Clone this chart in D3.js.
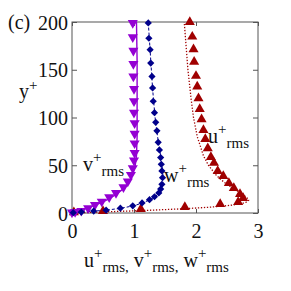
<!DOCTYPE html>
<html>
<head>
<meta charset="utf-8">
<script src="https://cdn.jsdelivr.net/npm/d3@7"></script>
<style>
  body { margin: 0; background: #fff; }
</style>
</head>
<body>
<div id="chart"></div>
<script>
// ticks
var xTicks = [0, 1, 2, 3];
var yTicks = [0, 50, 100, 150, 200];

// DNS points (markers)
var uY = [200, 184.6, 171.4, 158.4, 143.5, 132.3, 120.1, 108.9, 98.1, 86.9, 77.5, 67.8, 58.6, 52.4, 44, 38.7, 31.4, 26.2, 19.9, 15.7, 11.5, 9.4, 6.3, 4.2, 2.1, 0.7];
var uX = [1.90, 1.94, 1.96, 1.97, 2.00, 2.02, 2.04, 2.06, 2.09, 2.12, 2.15, 2.19, 2.24, 2.29, 2.35, 2.44, 2.53, 2.61, 2.71, 2.76, 2.68, 2.39, 1.82, 1.11, 0.50, 0.03];

var vY = [199, 184, 170, 156, 143, 130, 117, 105, 94, 83, 73, 63, 55, 47, 40, 33, 27, 21, 16.5, 12, 8.5, 5, 2.3, 1.2, 0.5];
var vX = [0.98, 0.98, 0.99, 0.99, 0.99, 1.0, 1.0, 1.0, 1.01, 1.01, 1.01, 1.01, 1.0, 0.98, 0.95, 0.9, 0.83, 0.71, 0.6, 0.48, 0.37, 0.26, 0.15, 0.05, 0.0];

var wY = [199, 183, 171, 157, 143, 131, 117, 105, 95, 86, 74, 66, 58, 51, 44, 37, 30, 25, 21, 17, 14, 10.5, 7.5, 5, 3, 2, 1, 0.3];
var wX = [1.23, 1.24, 1.26, 1.27, 1.29, 1.30, 1.31, 1.33, 1.35, 1.37, 1.39, 1.41, 1.43, 1.44, 1.45, 1.46, 1.45, 1.43, 1.40, 1.33, 1.25, 1.13, 0.98, 0.78, 0.55, 0.35, 0.15, 0.02];

// model curves (lines)
var uLineY = [0, 1, 2, 3, 4, 5, 6, 7, 8, 9, 10, 11, 12, 13.5, 15, 17, 20, 25, 30, 35, 40, 50, 60, 70, 80, 100, 120, 150, 175, 200];
var uLineX = [0, 0.45, 0.9, 1.3, 1.65, 1.95, 2.2, 2.4, 2.55, 2.66, 2.74, 2.8, 2.83, 2.85, 2.84, 2.8, 2.74, 2.62, 2.5, 2.4, 2.32, 2.2, 2.12, 2.07, 2.02, 1.96, 1.92, 1.87, 1.84, 1.81];

var vLineY = [0, 1, 2, 3, 5, 7, 10, 13, 16, 20, 25, 30, 35, 40, 50, 60, 80, 100, 130, 160, 200];
var vLineX = [0, 0.04, 0.09, 0.14, 0.23, 0.32, 0.44, 0.54, 0.63, 0.72, 0.82, 0.89, 0.94, 0.98, 1.02, 1.04, 1.05, 1.05, 1.05, 1.05, 1.04];

var wLineY = [0, 1, 2, 3, 5, 7.5, 10.5, 14, 17, 21, 25, 30, 37, 44, 51, 60, 80, 100, 130, 160, 200];
var wLineX = [0, 0.16, 0.36, 0.56, 0.79, 0.99, 1.14, 1.26, 1.34, 1.41, 1.44, 1.46, 1.47, 1.46, 1.45, 1.43, 1.38, 1.34, 1.30, 1.27, 1.23];

var purple = "#9400d3", blue = "#00008b", red = "#a00000";
var serif = "Liberation Serif";
var fs = 20, fsSmall = 15;

var svg = d3.select("#chart").append("svg")
  .attr("width", 291).attr("height", 291);

var x = d3.scaleLinear().domain([0, 3]).range([72, 258]);
var y = d3.scaleLinear().domain([0, 200]).range([213, 22]);

function zip(xs, ys) {
  return xs.map(function (d, i) { return [d, ys[i]]; });
}

var line = d3.line()
  .x(function (d) { return x(d[0]); })
  .y(function (d) { return y(d[1]); });

// frame
svg.append("rect")
  .attr("x", 72).attr("y", 22)
  .attr("width", 186).attr("height", 191)
  .attr("fill", "none").attr("stroke", "#555").attr("stroke-width", 1);

// axes, gnuplot-ish inward ticks
var ax = svg.append("g").attr("transform", "translate(0,213)")
  .call(d3.axisBottom(x).tickValues(xTicks).tickFormat(d3.format("d"))
    .tickSizeInner(-4).tickSizeOuter(0).tickPadding(11));
var ay = svg.append("g").attr("transform", "translate(72,0)")
  .call(d3.axisLeft(y).tickValues(yTicks).tickFormat(d3.format("d"))
    .tickSizeInner(-5).tickSizeOuter(0).tickPadding(4));
svg.append("g").attr("transform", "translate(0,22)")
  .call(d3.axisTop(x).tickValues(xTicks).tickSizeInner(-4).tickSizeOuter(0).tickFormat(""));
svg.append("g").attr("transform", "translate(258,0)")
  .call(d3.axisRight(y).tickValues(yTicks).tickSizeInner(-5).tickSizeOuter(0).tickFormat(""));

svg.selectAll("g").attr("font-family", serif).attr("font-size", fs);
svg.selectAll(".domain").remove();
svg.selectAll(".tick line").attr("stroke", "#555");
svg.selectAll(".tick text").attr("fill", "#111");
ax.selectAll(".tick text").attr("dy", "0.71em");
ay.selectAll(".tick text").attr("dy", "0.35em");

// lines
svg.append("path").datum(zip(uLineX, uLineY))
  .attr("d", line).attr("fill", "none")
  .attr("stroke", red).attr("stroke-width", 1.3).attr("stroke-dasharray", "1.3,1.7");
svg.append("path").datum(zip(wLineX, wLineY))
  .attr("d", line).attr("fill", "none")
  .attr("stroke", blue).attr("stroke-width", 1).attr("stroke-dasharray", "3,2");
svg.append("path").datum(zip(vLineX, vLineY))
  .attr("d", line).attr("fill", "none")
  .attr("stroke", purple).attr("stroke-width", 1.4);

// markers
var tri = d3.symbol().type(d3.symbolTriangle).size(44);
var dia = d3.symbol().type(d3.symbolSquare).size(26);

svg.append("g").selectAll("path").data(zip(uX, uY)).enter().append("path")
  .attr("d", tri)
  .attr("transform", function (d) { return "translate(" + x(d[0]) + "," + y(d[1]) + ")"; })
  .attr("fill", red);

svg.append("g").selectAll("path").data(zip(vX, vY)).enter().append("path")
  .attr("d", tri)
  .attr("transform", function (d) { return "translate(" + x(d[0]) + "," + y(d[1]) + ") rotate(180)"; })
  .attr("fill", purple);

svg.append("g").selectAll("path").data(zip(wX, wY)).enter().append("path")
  .attr("d", dia)
  .attr("transform", function (d) { return "translate(" + x(d[0]) + "," + y(d[1]) + ") rotate(45)"; })
  .attr("fill", blue);

// text with super/subscripts
function label(px, py, parts) {
  var t = svg.append("text").attr("x", px).attr("y", py)
    .attr("font-family", serif).attr("font-size", fs).attr("fill", "#111");
  parts.forEach(function (p) {
    t.append("tspan").attr("dy", p[1]).attr("font-size", p[2]).text(p[0]);
  });
  return t;
}
function rmsParts(letter) {
  return [[letter, 0, fs], ["+", -9, fsSmall], ["rms", 14, fsSmall]];
}

label(8, 29, [["(c)", 0, fs]]);
label(19, 98, [["y", 0, fs], ["+", -8, fsSmall]]);

label(83, 171, rmsParts("v"));
label(164, 182, rmsParts("w"));
label(208, 143, rmsParts("u"));

// x axis title
label(84, 267, [["u", 0, fs], ["+", -9, fsSmall], ["rms,", 14, fsSmall],
                [" v", -5, fs], ["+", -9, fsSmall], ["rms,", 14, fsSmall],
                [" w", -5, fs], ["+", -9, fsSmall], ["rms", 14, fsSmall]]);
</script>
</body>
</html>
